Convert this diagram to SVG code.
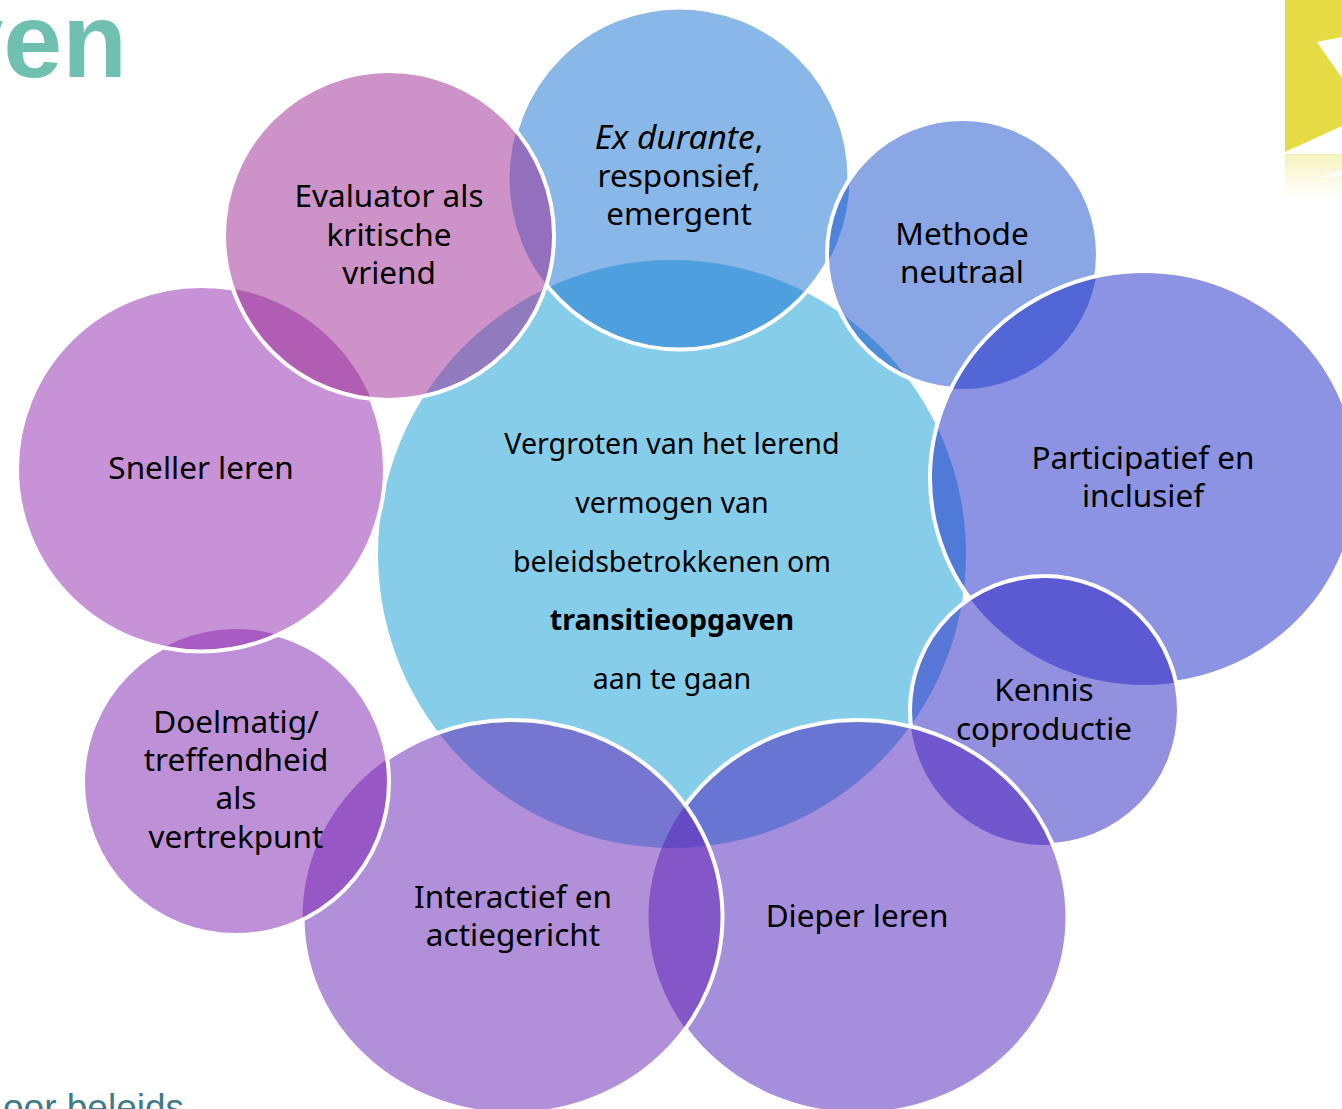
<svg xmlns="http://www.w3.org/2000/svg" width="1342" height="1109" viewBox="0 0 1342 1109">
<style>
text{font-family:"Noto Sans","Liberation Sans",sans-serif;fill:#000;text-anchor:middle}
.s{font-size:31.5px}
.c{font-size:28.6px}
.f{fill-opacity:.5}
.ring{fill:none;stroke:#fff;stroke-width:4}
</style>
<defs>
<linearGradient id="refl" x1="0" y1="0" x2="0" y2="1"><stop offset="0" stop-color="#e8df5c" stop-opacity=".4"/><stop offset="1" stop-color="#e8df5c" stop-opacity="0"/></linearGradient>
<ellipse id="gEx" cx="679.500" cy="178.500" rx="170" ry="171"/>
<ellipse id="gMe" cx="962.500" cy="254" rx="135.500" ry="135"/>
<ellipse id="gPa" cx="1144" cy="478" rx="214" ry="207"/>
<ellipse id="gKe" cx="1044.500" cy="710.500" rx="134.500" ry="134.500"/>
<ellipse id="gDi" cx="858" cy="917" rx="209.500" ry="197"/>
<ellipse id="gIn" cx="512.500" cy="917" rx="210" ry="197"/>
<ellipse id="gDo" cx="236" cy="782" rx="153" ry="153"/>
<ellipse id="gSn" cx="201" cy="468.750" rx="184" ry="182.750"/>
<ellipse id="gEv" cx="389" cy="235.500" rx="165" ry="164.500"/>
<mask id="mEv" maskUnits="userSpaceOnUse" x="0" y="0" width="1342" height="1109"><rect width="1342" height="1109" fill="#fff"/><use href="#gEv" fill="#000"/></mask>
<mask id="mMe" maskUnits="userSpaceOnUse" x="0" y="0" width="1342" height="1109"><rect width="1342" height="1109" fill="#fff"/><use href="#gMe" fill="#000"/></mask>
<mask id="mPa" maskUnits="userSpaceOnUse" x="0" y="0" width="1342" height="1109"><rect width="1342" height="1109" fill="#fff"/><use href="#gPa" fill="#000"/></mask>
<mask id="mKe" maskUnits="userSpaceOnUse" x="0" y="0" width="1342" height="1109"><rect width="1342" height="1109" fill="#fff"/><use href="#gKe" fill="#000"/></mask>
<mask id="mDi" maskUnits="userSpaceOnUse" x="0" y="0" width="1342" height="1109"><rect width="1342" height="1109" fill="#fff"/><use href="#gDi" fill="#000"/></mask>
<mask id="mIn" maskUnits="userSpaceOnUse" x="0" y="0" width="1342" height="1109"><rect width="1342" height="1109" fill="#fff"/><use href="#gIn" fill="#000"/></mask>
<mask id="mDo" maskUnits="userSpaceOnUse" x="0" y="0" width="1342" height="1109"><rect width="1342" height="1109" fill="#fff"/><use href="#gDo" fill="#000"/></mask>
<mask id="mSn" maskUnits="userSpaceOnUse" x="0" y="0" width="1342" height="1109"><rect width="1342" height="1109" fill="#fff"/><use href="#gSn" fill="#000"/></mask>
</defs>
<rect width="1342" height="1109" fill="#fff"/>
<g id="backdrop">
<text x="127" y="76.500" style="font-family:'Liberation Sans',sans-serif;font-weight:700;font-size:106px;fill:#6fc0b0;text-anchor:end">ven</text>
<text x="3" y="1120" style="font-family:'Liberation Sans',sans-serif;font-size:37px;fill:#3f7a8a;text-anchor:start">oor beleids-</text>
<path d="M1285 0H1342V37L1317 42L1342 78V126L1285 152Z" fill="#e5dc45"/>
<path d="M1285 154H1342V170L1318 178L1342 176V197H1285Z" fill="url(#refl)"/>
</g>
<g id="center">
<circle cx="672" cy="554" r="294" fill="#86cdea"/>
<text class="c" x="672" y="454">Vergroten van het lerend</text>
<text class="c" x="672" y="513">vermogen van</text>
<text class="c" x="672" y="572">beleidsbetrokkenen om</text>
<text class="c" x="672" y="630" font-weight="700">transitieopgaven</text>
<text class="c" x="672" y="689">aan te gaan</text>
</g>
<g id="ex-durante">
<use href="#gEx" class="f" fill="#1371d1"/>
<text class="s" x="679" y="149"><tspan font-style="italic" font-size="33.500">Ex durante</tspan>,</text>
<text class="s" x="679" y="187">responsief,</text>
<text class="s" x="679" y="225">emergent</text>
</g>
<g id="methode">
<use href="#gMe" class="f" fill="#154dc9"/>
<text class="s" x="962" y="245">Methode</text>
<text class="s" x="962" y="283">neutraal</text>
</g>
<g id="participatief">
<use href="#gPa" class="f" fill="#1927c5"/>
<text class="s" x="1143" y="469">Participatief en</text>
<text class="s" x="1143" y="507">inclusief</text>
</g>
<g id="kennis">
<use href="#gKe" class="f" fill="#2921c1"/>
<text class="s" x="1044" y="701">Kennis</text>
<text class="s" x="1044" y="740">coproductie</text>
</g>
<g id="dieper">
<use href="#gDi" class="f" fill="#4b1db9"/>
<text class="s" x="857" y="927">Dieper leren</text>
</g>
<g id="interactief">
<use href="#gIn" class="f" fill="#631fb3"/>
<text class="s" x="513" y="908">Interactief en</text>
<text class="s" x="513" y="946">actiegericht</text>
</g>
<g id="doelmatig">
<use href="#gDo" class="f" fill="#7d21b1"/>
<text class="s" x="236" y="733">Doelmatig/</text>
<text class="s" x="236" y="771">treffendheid</text>
<text class="s" x="236" y="809">als</text>
<text class="s" x="236" y="848">vertrekpunt</text>
</g>
<g id="sneller">
<use href="#gSn" class="f" fill="#9127ad"/>
<text class="s" x="201" y="479">Sneller leren</text>
</g>
<g id="evaluator">
<use href="#gEv" class="f" fill="#9b2791"/>
<text class="s" x="389" y="207">Evaluator als</text>
<text class="s" x="389" y="246">kritische</text>
<text class="s" x="389" y="284">vriend</text>
</g>
<g id="outlines">
<g mask="url(#mEv)"><g mask="url(#mMe)"><use href="#gEx" class="ring"/></g></g>
<g mask="url(#mPa)"><use href="#gMe" class="ring"/></g>
<g mask="url(#mKe)"><use href="#gPa" class="ring"/></g>
<g mask="url(#mDi)"><use href="#gKe" class="ring"/></g>
<g mask="url(#mIn)"><use href="#gDi" class="ring"/></g>
<g mask="url(#mDo)"><use href="#gIn" class="ring"/></g>
<g mask="url(#mSn)"><use href="#gDo" class="ring"/></g>
<g mask="url(#mEv)"><use href="#gSn" class="ring"/></g>
<use href="#gEv" class="ring"/>
</g>
</svg>
